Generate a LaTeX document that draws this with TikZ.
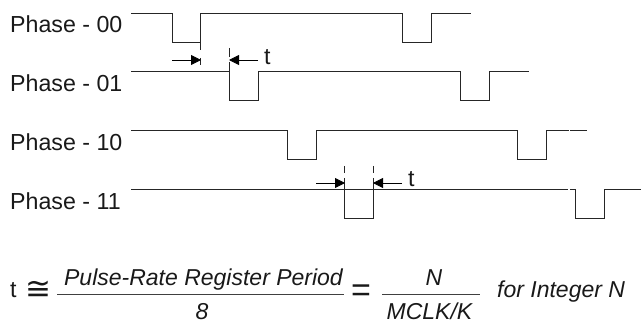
\documentclass[tikz,border=0pt]{standalone}
\usepackage{fontspec}
\setmainfont{Liberation Sans}
\newfontfamily\symfont{DejaVu Sans}
\usetikzlibrary{arrows.meta}
\tikzset{
  wave/.style={line width=0.9pt,black!85,line cap=butt,line join=miter},
  tick/.style={line width=0.8pt,black!85},
  dim/.style={line width=0.8pt,black,-{Triangle[length=10pt,width=10pt]}},
  lab/.style={inner sep=0pt,anchor=base west,font=\fontsize{23.2}{26}\selectfont,text=black!90},
  frm/.style={inner sep=0pt,anchor=base,font=\fontsize{23}{26}\selectfont\itshape,text=black!90},
  bar/.style={line width=0.9pt,black!75}
}
\begin{document}
\begin{tikzpicture}[x=1pt,y=-1pt]
\useasboundingbox (0,0) rectangle (641,323);
% labels
\node[lab] (l0) at (10,33) {Phase - 00};
\node[lab] (l1) at (10,92) {Phase - 01};
\node[lab] (l2) at (10,151) {Phase - 10};
\node[lab] (l3) at (10,210) {Phase - 11};
% waveforms
\draw[wave] (131,13) -| (172,42.5) -| (200.5,13) -| (402.5,42.5) -| (431,13) -- (471,13);
\draw[wave] (131,71.5) -| (229.5,100.5) -| (258,71.5) -| (460,100.5) -| (489,71.5) -- (529,71.5);
\draw[wave] (131,130) -| (287,159.5) -| (316,130) -| (517.5,159.5) -| (546.5,130) -- (569,130);
\draw[wave] (570,130) -- (587,130);
\draw[wave] (131,189) -- (568,189);
\draw[wave] (344.5,189) -- (344.5,218) -- (373.5,218) -- (373.5,189);
\draw[wave] (570,189) -| (575,218) -| (604.5,189) -- (641,189);
% ticks
\draw[tick] (200.5,42.5) -- (200.5,50);
\draw[tick] (200.5,58) -- (200.5,65);
\draw[tick] (229.5,48) -- (229.5,57);
\draw[tick] (229.5,62) -- (229.5,71.5);
\draw[tick] (344.5,166) -- (344.5,173);
\draw[tick] (344.5,178) -- (344.5,189);
\draw[tick] (373.5,166) -- (373.5,173);
\draw[tick] (373.5,178) -- (373.5,189);
% dimension arrows
\coordinate (a0) at (172,60); \coordinate (a1) at (201,60);
\coordinate (b0) at (258,60); \coordinate (b1) at (229,60);
\coordinate (c0) at (316,183); \coordinate (c1) at (345,183);
\coordinate (d0) at (402,183); \coordinate (d1) at (373,183);
\draw[dim] (a0) -- (a1);
\draw[dim] (b0) -- (b1);
\draw[dim] (c0) -- (c1);
\draw[dim] (d0) -- (d1);
\node[lab] (t1) at (264,64.5) {t};
\node[lab] (t2) at (408,187) {t};
% formula
\node[lab] (t3) at (10,298) {t};
\node[inner sep=0pt,anchor=base,font=\symfont\fontsize{31}{32}\selectfont,text=black!90] (cong) at (38.5,300) {≅};
\draw[bar] (57,294.5) -- (344,294.5);
\node[frm] (num1) at (203.5,286) {Pulse-Rate Register Period};
\node[frm] (den1) at (202,319.5) {8};
\node[inner sep=0pt,anchor=base,font=\fontsize{34}{34}\selectfont,text=black!90] (eq) at (361,301.5) {=};
\draw[bar] (382,294.5) -- (480,294.5);
\node[frm] (num2) at (434,286) {N};
\node[frm] (den2) at (429.5,319.5) {MCLK/K};
\node[frm,anchor=base west] (note) at (497,298) {for Integer N};
\end{tikzpicture}
\end{document}
